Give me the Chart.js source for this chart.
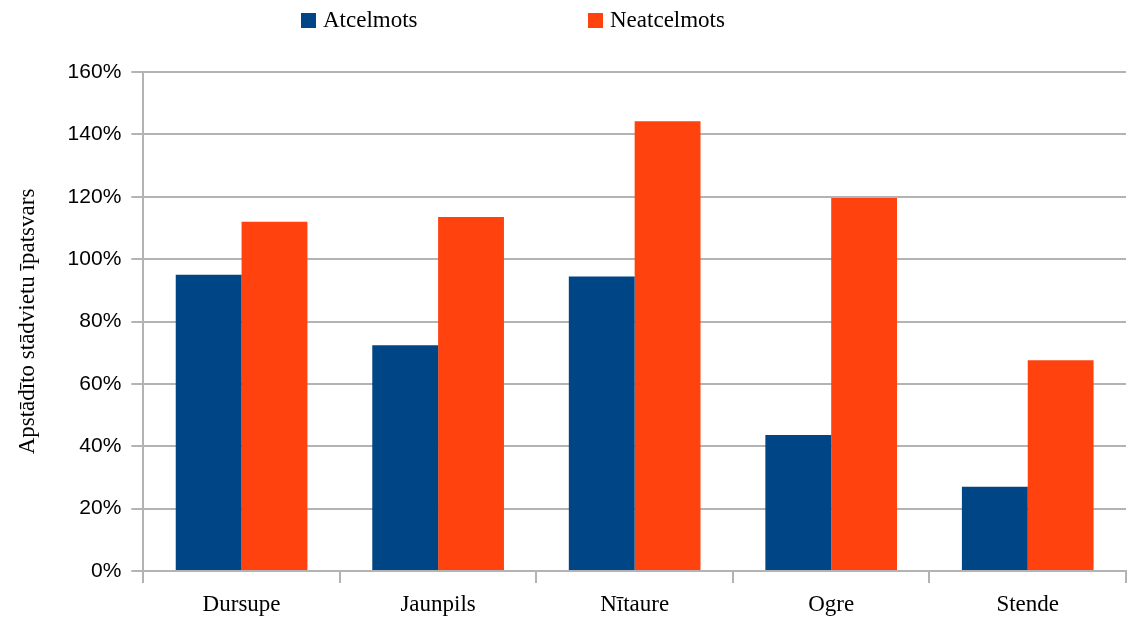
<!DOCTYPE html>
<html>
<head>
<meta charset="utf-8">
<script src="https://cdn.jsdelivr.net/npm/chart.js@4"></script>
<style>
  html, body { margin: 0; padding: 0; background: #fff; }
  #wrap { position: relative; width: 1133px; height: 621px; }
  #legend { position: absolute; top: 6px; left: 0; width: 100%; height: 30px;
            font-family: "Liberation Serif", serif; font-size: 23px; color: #000; }
  #legend span.item { position: absolute; top: 0; white-space: nowrap; line-height: 28px; }
  #legend i { display: inline-block; width: 15px; height: 15px; margin-right: 7px; vertical-align: -1px; }
</style>
</head>
<body>
<div id="wrap">
  <canvas id="graph"></canvas>
  <div id="legend"></div>
</div>
<script>
const places = ['Dursupe', 'Jaunpils', 'Nītaure', 'Ogre', 'Stende'];
const atcelmots = [95, 72.4, 94.4, 43.6, 27];
const neatcelmots = [112, 113.5, 144.2, 119.6, 67.6];
const seriesNames = ['Atcelmots', 'Neatcelmots'];
const seriesColors = ['#004586', '#ff420e'];
const yTicks = [0, 20, 40, 60, 80, 100, 120, 140, 160];

const canvas = document.getElementById('graph');
canvas.width = 1133;
canvas.height = 621;

const graph = new Chart(canvas, {
  type: 'bar',
  data: {
    labels: places,
    datasets: [{
      label: seriesNames[0],
      data: atcelmots,
      backgroundColor: seriesColors[0]
    }, {
      label: seriesNames[1],
      data: neatcelmots,
      backgroundColor: seriesColors[1]
    }]
  },
  options: {
    responsive: false,
    animation: false,
    datasets: {
      bar: { categoryPercentage: 0.67, barPercentage: 1 }
    },
    layout: { padding: { top: 72, right: 7, bottom: -5, left: 14 } },
    plugins: {
      legend: { display: false },
      tooltip: { enabled: false }
    },
    scales: {
      x: {
        grid: { drawOnChartArea: false, color: '#b3b3b3', tickLength: 12, lineWidth: 2 },
        border: { color: '#b3b3b3', width: 2 },
        ticks: {
          color: '#000',
          padding: 10,
          font: { family: 'Liberation Serif', size: 23, lineHeight: 1 }
        }
      },
      y: {
        min: 0,
        max: 160,
        afterBuildTicks: axis => { axis.ticks = yTicks.map(v => ({ value: v })); },
        grid: { color: '#b3b3b3', tickLength: 12, lineWidth: 2 },
        border: { color: '#b3b3b3', width: 2 },
        ticks: {
          color: '#000',
          padding: 10,
          font: { family: 'Liberation Sans', size: 21 },
          callback: v => v + '%'
        },
        title: {
          display: true,
          text: 'Apstādīto stādvietu īpatsvars',
          color: '#000',
          padding: { top: 0, bottom: 16 },
          font: { family: 'Liberation Serif', size: 23 }
        }
      }
    }
  }
});

// legend drawn as html above the plot
const legend = document.getElementById('legend');
const legendX = [301, 588];
seriesNames.forEach((name, i) => {
  const item = document.createElement('span');
  item.className = 'item';
  item.style.left = legendX[i] + 'px';
  item.innerHTML = '<i style="background:' + seriesColors[i] + '"></i>' + name;
  legend.appendChild(item);
});
</script>
</body>
</html>
